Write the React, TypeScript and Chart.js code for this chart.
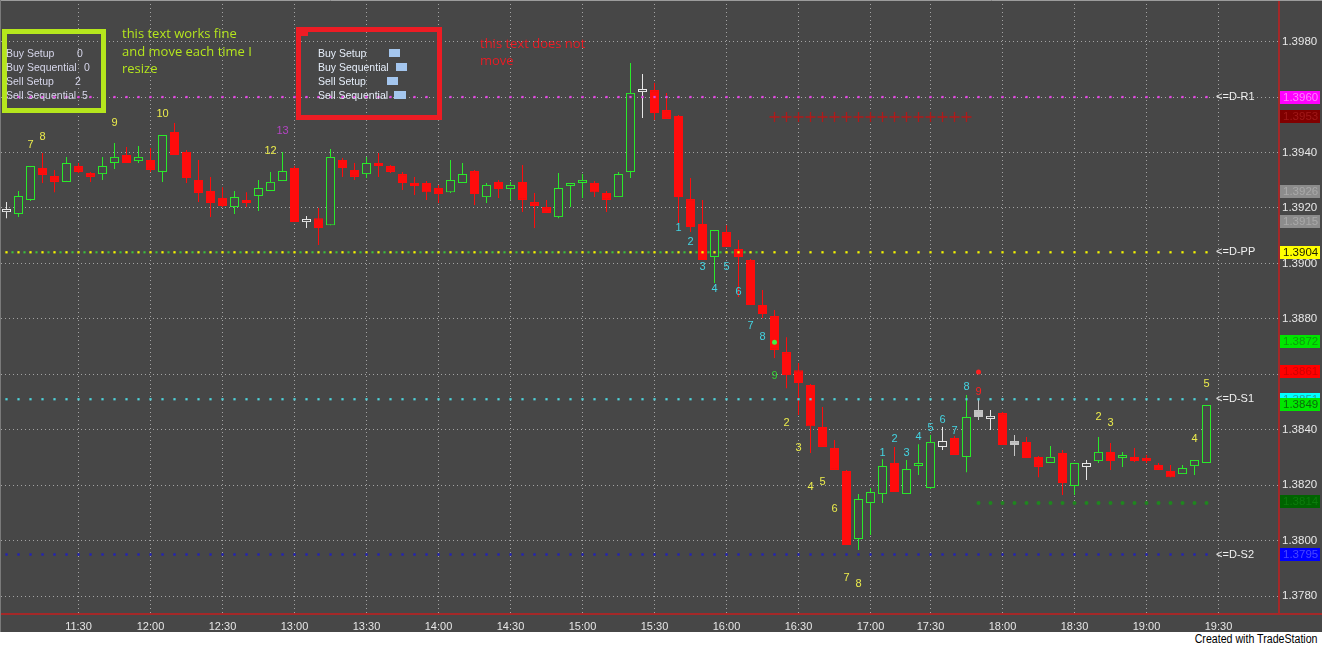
import React, { useEffect, useRef } from "react";
import { Chart, registerables } from "chart.js";

Chart.register(...registerables);
Chart.defaults.font.family = '"Liberation Sans", Arial, sans-serif';

// ---------- data ----------
const timeSlots = (
  "11:00 11:05 11:10 11:15 11:20 11:25 11:30 11:35 11:40 11:45 11:50 11:55 " +
  "12:00 12:05 12:10 12:15 12:20 12:25 12:30 12:35 12:40 12:45 12:50 12:55 " +
  "13:00 13:05 13:10 13:15 13:20 13:25 13:30 13:35 13:40 13:45 13:50 13:55 " +
  "14:00 14:05 14:10 14:15 14:20 14:25 14:30 14:35 14:40 14:45 14:50 14:55 " +
  "15:00 15:05 15:10 15:15 15:20 15:25 15:30 15:35 15:40 15:45 15:50 15:55 " +
  "16:00 16:05 16:10 16:15 16:20 16:25 16:30 16:35 16:40 16:45 16:50 16:55 " +
  "17:00 17:10 17:15 17:20 17:25 17:30 17:35 17:40 17:45 17:50 17:55 " +
  "18:00 18:05 18:10 18:15 18:20 18:25 18:30 18:35 18:40 18:45 18:50 18:55 " +
  "19:00 19:05 19:10 19:15 19:20 19:25 19:30"
).split(" ");

const openPrices = [
  1.39185, 1.39178, 1.39229, 1.39344, 1.39315, 1.39294, 1.39351, 1.39326, 1.39322, 1.39362,
  1.39391, 1.39369, 1.39373, 1.3933, 1.39474, 1.39402, 1.39301, 1.39261, 1.39236, 1.39203,
  1.39229, 1.39243, 1.39261, 1.39297, 1.39344, 1.39149, 1.39163, 1.39138, 1.39373, 1.39337,
  1.39322, 1.39362, 1.39351, 1.39322, 1.3929, 1.3929, 1.39272, 1.39257, 1.3929, 1.39333,
  1.39239, 1.39294, 1.39268, 1.39294, 1.39221, 1.39203, 1.39167, 1.39279, 1.3929, 1.3929,
  1.39254, 1.39239, 1.3933, 1.39618, 1.39625, 1.39553, 1.39532, 1.39232, 1.39142, 1.39023,
  1.39113, 1.39052, 1.39012, 1.3885, 1.3881, 1.3868, 1.38615, 1.38561, 1.3841, 1.38334,
  1.38251, 1.38006, 1.38136, 1.38168, 1.3828, 1.38168, 1.38269, 1.3819, 1.38338, 1.3837,
  1.38302, 1.38471, 1.38439, 1.3846, 1.38359, 1.38356, 1.38302, 1.3828, 1.38316, 1.38197,
  1.38266, 1.38287, 1.3832, 1.38298, 1.38302, 1.38298, 1.38273, 1.38251, 1.3824, 1.38269,
  1.3828,
];
const highPrices = [
  1.39221, 1.39261, 1.39351, 1.39398, 1.39337, 1.39384, 1.39362, 1.3933, 1.39384, 1.39434,
  1.3942, 1.39423, 1.39416, 1.39463, 1.39506, 1.39409, 1.39373, 1.39312, 1.39275, 1.39261,
  1.39257, 1.39301, 1.3933, 1.39402, 1.39351, 1.39171, 1.392, 1.39413, 1.3938, 1.39362,
  1.39384, 1.39398, 1.39355, 1.3933, 1.39312, 1.39297, 1.39283, 1.39373, 1.39362, 1.39337,
  1.3929, 1.39301, 1.39294, 1.39355, 1.39254, 1.39229, 1.39326, 1.39283, 1.39322, 1.39297,
  1.39261, 1.3933, 1.39723, 1.39683, 1.39651, 1.39615, 1.39535, 1.39308, 1.39229, 1.3912,
  1.39138, 1.39084, 1.39016, 1.38904, 1.38832, 1.38734, 1.38641, 1.38565, 1.38482, 1.38363,
  1.38255, 1.38168, 1.3819, 1.38294, 1.38338, 1.38291, 1.38348, 1.38381, 1.3841, 1.38377,
  1.38525, 1.38511, 1.38471, 1.38464, 1.38381, 1.38374, 1.38305, 1.38341, 1.38327, 1.3828,
  1.38291, 1.38374, 1.38352, 1.3832, 1.38334, 1.38309, 1.3828, 1.38273, 1.38273, 1.38291,
  1.38489,
];
const lowPrices = [
  1.39163, 1.39167, 1.39225, 1.3929, 1.39257, 1.39294, 1.39326, 1.39294, 1.39301, 1.3934,
  1.39362, 1.39362, 1.3933, 1.39294, 1.39391, 1.3929, 1.39221, 1.39167, 1.39203, 1.39178,
  1.39203, 1.39189, 1.39261, 1.39297, 1.39149, 1.39128, 1.39066, 1.39138, 1.39312, 1.39301,
  1.39308, 1.39312, 1.39326, 1.39265, 1.39247, 1.39229, 1.39218, 1.39254, 1.3929, 1.39211,
  1.39218, 1.39236, 1.39229, 1.39185, 1.39128, 1.39182, 1.39163, 1.39203, 1.39236, 1.39239,
  1.39185, 1.39239, 1.39308, 1.39524, 1.39517, 1.39521, 1.39146, 1.39113, 1.39012, 1.38929,
  1.39059, 1.38879, 1.3885, 1.38803, 1.38659, 1.3855, 1.38453, 1.38316, 1.38338, 1.38255,
  1.37984, 1.37966, 1.3802, 1.38136, 1.38175, 1.38168, 1.38237, 1.38186, 1.38327, 1.38309,
  1.38247, 1.38435, 1.38399, 1.38345, 1.38305, 1.38298, 1.38229, 1.3828, 1.38165, 1.38165,
  1.38219, 1.3828, 1.38255, 1.38266, 1.38284, 1.3828, 1.38255, 1.38229, 1.3824, 1.38237,
  1.3828,
];
const closePrices = [
  1.39193, 1.39243, 1.39351, 1.39319, 1.39294, 1.39362, 1.3933, 1.39312, 1.39351, 1.39384,
  1.39362, 1.39384, 1.39337, 1.39463, 1.39391, 1.39308, 1.39254, 1.39218, 1.39207, 1.39239,
  1.39218, 1.39272, 1.39294, 1.39333, 1.39149, 1.39149, 1.39128, 1.39384, 1.39344, 1.39312,
  1.39362, 1.39351, 1.3933, 1.3929, 1.39279, 1.39257, 1.3925, 1.39301, 1.39322, 1.3925,
  1.39283, 1.39268, 1.39283, 1.39229, 1.39207, 1.39182, 1.39272, 1.39283, 1.39301, 1.39257,
  1.39229, 1.39322, 1.39615, 1.39618, 1.39542, 1.39521, 1.39239, 1.39131, 1.39012, 1.3912,
  1.39059, 1.39023, 1.3885, 1.38817, 1.38688, 1.38597, 1.38569, 1.38413, 1.38338, 1.38255,
  1.37984, 1.3815, 1.38175, 1.38269, 1.38175, 1.38258, 1.3828, 1.38356, 1.38359, 1.38309,
  1.38446, 1.38446, 1.3845, 1.38345, 1.38345, 1.38298, 1.38266, 1.38302, 1.38208, 1.3828,
  1.3828, 1.3832, 1.38287, 1.38305, 1.38287, 1.38287, 1.38255, 1.38229, 1.38262, 1.38291,
  1.38489,
];
const whiteBars = [0, 25, 53, 78, 82, 90];
const grayBars = [81, 84];

const pivotNames = ["<=D-R1", "<=D-PP", "<=D-S1", "<=D-S2"];
const pivotLevels = [1.396, 1.3904, 1.3851, 1.3795];
const ppSupportLastBar = 62;

const stopHighLevel = 1.39528;
const stopHighBars = [64, 65, 66, 67, 68, 69, 70, 71, 72, 73, 74, 75, 76, 77, 78, 79, 80];
const stopLowLevel = 1.38136;
const stopLowBars = [81, 82, 83, 84, 85, 86, 87, 88, 89, 90, 91, 92, 93, 94, 95, 96, 97, 98, 99, 100];
const signalBars = [64, 81];
const signalPrices = [1.38716, 1.38608];

const countBars = [2, 3, 9, 13, 22, 23, 56, 57, 58, 59, 60, 61, 62, 63, 64, 65, 66, 67, 68, 69, 70, 71, 73, 74, 75, 76, 77, 78, 79, 80, 81, 91, 92, 99, 100];
const countTexts = ["7", "8", "9", "10", "12", "13", "1", "2", "3", "4", "5", "6", "7", "8", "9", "2", "3", "4", "5", "6", "7", "8", "1", "2", "3", "4", "5", "6", "7", "8", "9", "2", "3", "4", "5"];
const countPrices = [
  1.39427, 1.39456, 1.39506, 1.39539, 1.39405, 1.39477,
  1.39128, 1.39077, 1.38987, 1.38908, 1.38987, 1.38897, 1.38774, 1.38734, 1.38594,
  1.38424, 1.38334, 1.38193, 1.38211, 1.38114, 1.37865, 1.37844,
  1.38316, 1.38367, 1.38316, 1.38374, 1.38406, 1.38435, 1.38395, 1.38554, 1.38536,
  1.38446, 1.38424, 1.38367, 1.38565,
];
const countKinds = ["S", "S", "S", "S", "S", "Q", "B", "B", "B", "B", "B", "B", "B", "B", "G", "S", "S", "S", "S", "S", "S", "S", "B", "B", "B", "B", "B", "B", "B", "B", "R", "S", "S", "S", "S"];

const priceBoxValues = [1.396, 1.3953, 1.3926, 1.3915, 1.3904, 1.3872, 1.3861, 1.3851, 1.3849, 1.3814, 1.3795];
const yTickValues = [1.378, 1.38, 1.382, 1.384, 1.386, 1.388, 1.39, 1.392, 1.394, 1.396, 1.398];

const statusLabels = ["Buy Setup", "Buy Sequential", "Sell Setup", "Sell Sequential"];
const statusValues = ["0", "0", "2", "5"];
const noteGood = ["this text works fine", "and move each time I", "resize"];
const noteBad = ["this text does not", "move"];

// ---------- style ----------
const BG = "#474747";
const RED = "#ff0c0c";
const GREEN = "#2aea2a";
const WHITE = "#e6e6e6";
const GRAY = "#c4c4c4";
const X_MIN = -0.458333;
const X_MAX = X_MIN + 106.5;
const Y_MAX = 1.3995;
const Y_MIN = 1.3995 - 614 / 27725;

const pivotColors = ["#e444e4", "#f4f400", "#4ed2da", "#2020c0"];
const boxStyles: [string, string][] = [
  ["#ff00ff", "#ff80ff"],
  ["#800000", "#a01818"],
  ["#8c8c8c", "#a9a9a9"],
  ["#8c8c8c", "#a9a9a9"],
  ["#ffff00", "#202000"],
  ["#00e600", "#0c9c0c"],
  ["#ff0000", "#d00000"],
  ["#00ffff", "#2a9a9a"],
  ["#00e600", "#0a6a0a"],
  ["#006400", "#0c7c0c"],
  ["#0000ff", "#4848ff"],
];
const kindColors: Record<string, string> = {
  S: "#ecec4c",
  B: "#44d4e2",
  Q: "#b444c4",
  G: "#34d034",
  R: "#ff2020",
};

const barIndex = openPrices.map((_, i) => i);
const colorOf = (i: number) =>
  whiteBars.includes(i) ? WHITE : grayBars.includes(i) ? GRAY : closePrices[i] > openPrices[i] ? GREEN : RED;
const filledOf = (i: number) => grayBars.includes(i) || (!whiteBars.includes(i) && closePrices[i] <= openPrices[i]);

const overlayPlugin = {
  id: "tsOverlay",
  beforeDraw(chart: any) {
    const { ctx, width, height } = chart;
    ctx.save();
    ctx.fillStyle = BG;
    ctx.fillRect(0, 0, width, height);
    ctx.restore();
  },
  afterDatasetsDraw(chart: any) {
    const { ctx } = chart;
    const xs = chart.scales.x;
    const ys = chart.scales.y;
    ctx.save();
    ctx.font = '11px "Liberation Sans", Arial, sans-serif';
    ctx.textAlign = "center";
    ctx.textBaseline = "middle";
    countBars.forEach((b, i) => {
      ctx.fillStyle = kindColors[countKinds[i]];
      ctx.fillText(countTexts[i], xs.getPixelForValue(b), ys.getPixelForValue(countPrices[i]));
    });
    ctx.textAlign = "left";
    ctx.fillStyle = "#f0f0f0";
    const labelSlot = barIndex[barIndex.length - 1] + 0.8;
    pivotNames.forEach((n, i) => {
      ctx.fillText(n, xs.getPixelForValue(labelSlot), ys.getPixelForValue(pivotLevels[i]));
    });
    ctx.restore();
  },
  afterDraw(chart: any) {
    const { ctx, chartArea, width, height } = chart;
    const ys = chart.scales.y;
    ctx.save();
    ctx.font = '11.5px "Liberation Sans", Arial, sans-serif';
    ctx.textAlign = "left";
    ctx.textBaseline = "middle";
    priceBoxValues.forEach((v, i) => {
      const y = ys.getPixelForValue(v);
      ctx.fillStyle = boxStyles[i][0];
      ctx.fillRect(chartArea.right + 1, Math.round(y - 6.5), 40, 13);
      ctx.fillStyle = boxStyles[i][1];
      ctx.fillText(v.toFixed(4), chartArea.right + 4, y + 0.5);
    });
    // axis lines
    ctx.strokeStyle = "#a42828";
    ctx.lineWidth = 2;
    ctx.beginPath();
    ctx.moveTo(chartArea.right, 0);
    ctx.lineTo(chartArea.right, chartArea.bottom);
    ctx.moveTo(0, chartArea.bottom);
    ctx.lineTo(width, chartArea.bottom);
    ctx.stroke();
    ctx.lineWidth = 1;
    ctx.strokeStyle = "#9c9c9c";
    ctx.beginPath();
    ctx.moveTo(0, 0.5);
    ctx.lineTo(width, 0.5);
    ctx.stroke();
    ctx.strokeStyle = "#7a7a7a";
    ctx.beginPath();
    ctx.moveTo(0.5, 0);
    ctx.lineTo(0.5, height);
    ctx.stroke();
    ctx.restore();
  },
};

export default function App() {
  const ref = useRef<HTMLCanvasElement>(null);

  useEffect(() => {
    if (!ref.current) return;
    const tickSlots = timeSlots
      .map((t, i) => ({ t, i }))
      .filter((o) => o.i > 0 && (o.t.endsWith(":00") || o.t.endsWith(":30")))
      .map((o) => o.i);

    const pointSet = (data: any[], color: string, style: string, radius: number, order: number, extra: any = {}) => ({
      type: "scatter",
      data,
      pointStyle: style,
      pointRadius: radius,
      pointBackgroundColor: color,
      pointBorderColor: color,
      pointBorderWidth: 0,
      showLine: false,
      clip: false,
      order,
      ...extra,
    });

    const datasets: any[] = [
      {
        type: "bar",
        data: barIndex.map((i) => ({ x: i, y: [lowPrices[i], highPrices[i]] })),
        backgroundColor: barIndex.map(colorOf),
        borderWidth: 0,
        grouped: false,
        barPercentage: 1,
        categoryPercentage: 1,
        maxBarThickness: 1,
        inflateAmount: 0,
        order: 20,
      },
      {
        type: "bar",
        data: barIndex.map((i) => ({ x: i, y: [openPrices[i], closePrices[i]] })),
        backgroundColor: barIndex.map((i) => (filledOf(i) ? colorOf(i) : BG)),
        borderColor: barIndex.map(colorOf),
        borderWidth: 1,
        borderSkipped: false,
        grouped: false,
        barPercentage: 1,
        categoryPercentage: 1,
        maxBarThickness: 9,
        minBarLength: 3,
        inflateAmount: 0,
        order: 19,
      },
    ];
    pivotLevels.forEach((lv, p) => {
      datasets.push(pointSet(barIndex.map((i) => ({ x: i, y: lv })), pivotColors[p], "rect", 1.6, 5));
    });
    datasets.push(
      pointSet(
        barIndex.filter((i) => i <= ppSupportLastBar).map((i) => ({ x: i + 0.5, y: pivotLevels[1] })),
        "#3cc03c",
        "rect",
        1.5,
        6
      )
    );
    datasets.push(
      pointSet(stopHighBars.map((b) => ({ x: b, y: stopHighLevel })), "#b01a1a", "cross", 5, 4, {
        pointBorderWidth: 1.3,
      })
    );
    datasets.push(pointSet(stopLowBars.map((b) => ({ x: b, y: stopLowLevel })), "#1f861f", "circle", 2, 4));
    datasets.push(
      pointSet(
        signalBars.map((b, i) => ({ x: b, y: signalPrices[i] })),
        "#40ff40",
        "circle",
        2.5,
        3,
        { pointBackgroundColor: ["#44ee44", "#ff2020"], pointBorderColor: ["#44ee44", "#ff2020"] }
      )
    );

    const chart = new Chart(ref.current, {
      type: "bar",
      data: { datasets },
      options: {
        responsive: false,
        animation: false,
        events: [],
        layout: { autoPadding: false, padding: { left: 1, top: 0, right: 0, bottom: 0 } },
        plugins: { legend: { display: false }, tooltip: { enabled: false } },
        scales: {
          x: {
            type: "linear",
            min: X_MIN,
            max: X_MAX,
            offset: false,
            bounds: "data",
            grid: { color: "#a4a4a4", lineWidth: 1, drawTicks: false, offset: false },
            border: { display: false, dash: [1, 3] },
            afterBuildTicks: (s: any) => {
              s.ticks = tickSlots.map((v) => ({ value: v }));
            },
            afterFit: (s: any) => {
              s.height = 18;
              s.paddingLeft = 0;
              s.paddingRight = 0;
            },
            ticks: {
              autoSkip: false,
              maxRotation: 0,
              minRotation: 0,
              padding: 6,
              color: "#e6e6e6",
              font: { size: 11 },
              callback: (v: any) => timeSlots[Math.round(Number(v))] ?? "",
            },
          },
          y: {
            type: "linear",
            position: "right",
            min: Y_MIN,
            max: Y_MAX,
            bounds: "data",
            grid: { color: "#a4a4a4", lineWidth: 1, drawTicks: false },
            border: { display: false, dash: [1, 3] },
            afterBuildTicks: (s: any) => {
              s.ticks = yTickValues.map((v) => ({ value: v }));
            },
            afterFit: (s: any) => {
              s.width = 43;
              s.paddingTop = 0;
              s.paddingBottom = 0;
            },
            ticks: {
              padding: 3,
              color: "#e8e8e8",
              font: { size: 11.5 },
              callback: (v: any) => Number(v).toFixed(4),
            },
          },
        },
      } as any,
      plugins: [overlayPlugin as any],
    } as any);
    return () => chart.destroy();
  }, []);

  const small: React.CSSProperties = {
    position: "absolute",
    fontFamily: '"Liberation Sans", Arial, sans-serif',
    fontSize: 10.5,
    lineHeight: "12px",
    whiteSpace: "nowrap",
  };
  const note: React.CSSProperties = {
    position: "absolute",
    fontFamily: '"Open Sans", "Noto Sans", sans-serif',
    fontSize: 13,
    lineHeight: "16px",
    whiteSpace: "nowrap",
  };
  const rowY = [53, 67, 81, 95];
  const goodValueX = [77, 84, 75, 82];
  const blueRects = [
    [389, 11],
    [396, 11],
    [387, 11],
    [394, 12],
  ];

  return (
    <div style={{ position: "fixed", left: 0, top: 0, width: 1322, height: 648, background: "#ffffff", overflow: "hidden" }}>
      <canvas ref={ref} width={1322} height={632} style={{ position: "absolute", left: 0, top: 0, width: 1322, height: 632 }} />
      {/* lime box */}
      <div style={{ position: "absolute", left: 2, top: 29, width: 104, height: 84, border: "5px solid #b5e61d", boxSizing: "border-box" }} />
      {statusLabels.map((s, i) => (
        <React.Fragment key={"g" + i}>
          <span style={{ ...small, left: 6, top: rowY[i] - 6, color: "#d6d6ea" }}>{s}</span>
          <span style={{ ...small, left: goodValueX[i], top: rowY[i] - 6, color: "#d6d6ea" }}>{statusValues[i]}</span>
        </React.Fragment>
      ))}
      {noteGood.map((t, i) => (
        <span key={"ng" + i} style={{ ...note, left: 122, top: [34, 52, 69][i] - 9, color: "#b5e61d" }}>{t}</span>
      ))}
      {/* red box */}
      <div style={{ position: "absolute", left: 296, top: 27, width: 146, height: 93, border: "5px solid #ed1c24", boxSizing: "border-box" }} />
      <div style={{ position: "absolute", left: 296, top: 27, width: 12, height: 9, background: "#ed1c24" }} />
      {statusLabels.map((s, i) => (
        <React.Fragment key={"r" + i}>
          <span style={{ ...small, left: 318, top: rowY[i] - 6, color: "#e6eefa" }}>{s}</span>
          <div style={{ position: "absolute", left: blueRects[i][0], top: rowY[i] - 4, width: blueRects[i][1], height: 8, background: "#a4c6ee" }} />
        </React.Fragment>
      ))}
      {noteBad.map((t, i) => (
        <span key={"nb" + i} style={{ ...note, left: 480, top: [44, 61][i] - 9, color: "#e81c24" }}>{t}</span>
      ))}
      <span
        style={{
          position: "absolute",
          right: 4,
          top: 632,
          fontFamily: '"Liberation Sans", Arial, sans-serif',
          fontSize: 12.5,
          lineHeight: "15px",
          color: "#000",
          transform: "scaleX(0.85)",
          transformOrigin: "right center",
          whiteSpace: "nowrap",
        }}
      >
        Created with TradeStation
      </span>
    </div>
  );
}
